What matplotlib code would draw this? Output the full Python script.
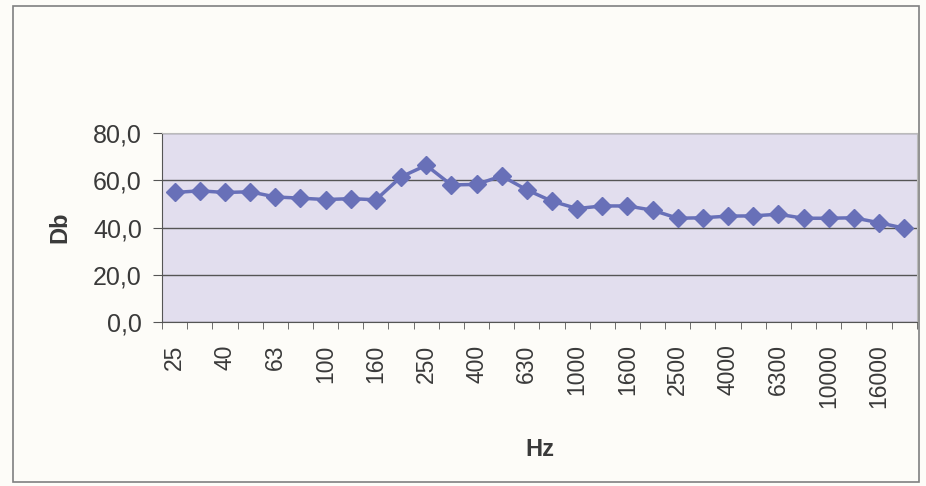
import numpy as np
import matplotlib.pyplot as plt
from matplotlib.patches import Rectangle

plt.rcParams['font.family'] = ['Liberation Sans', 'DejaVu Sans']

# ============= data =============
freqs = ['25', '31.5', '40', '50', '63', '80', '100', '125', '160', '200',
         '250', '315', '400', '500', '630', '800', '1000', '1250', '1600', '2000',
         '2500', '3150', '4000', '5000', '6300', '8000', '10000', '12500', '16000', '20000']
db = [54.9, 55.6, 54.9, 55.2, 53.0, 52.5, 51.9, 52.3, 51.8, 61.5,
      66.4, 58.1, 58.3, 61.9, 56.0, 51.2, 48.1, 49.2, 49.2, 47.4,
      44.0, 44.2, 44.9, 45.0, 45.7, 44.0, 44.0, 44.2, 42.1, 39.8]
yticks = [0, 20, 40, 60, 80]

# ============= plotting =============
fig = plt.figure(figsize=(9.26, 4.86), dpi=100, facecolor='#fdfcf8')
fig.patches.append(Rectangle((0.014, 0.008), 0.978, 0.98, transform=fig.transFigure,
                             fill=False, edgecolor='#808080', linewidth=1.2))

ax = fig.add_axes([0.175, 0.337, 0.815, 0.389])
ax.set_facecolor('#e2deee')
x = np.arange(len(freqs))
ax.plot(x, db, color='#6870b8', linewidth=2.5, marker='D', markersize=9,
        markerfacecolor='#6870b8', markeredgecolor='#6870b8', zorder=3)

ax.set_xlim(-0.5, len(freqs) - 0.5)
ax.set_ylim(0, 80)
ax.set_yticks(yticks)
ax.set_yticklabels([f'{v:.1f}'.replace('.', ',') for v in yticks], fontsize=18, color='#3a3a3a')
ax.yaxis.grid(True, color='#555555', linewidth=1)
ax.set_axisbelow(True)

# labels on every other band, tick marks on band boundaries
ax.set_xticks(x[::2])
ax.set_xticklabels(freqs[::2], rotation=90, fontsize=16.5, color='#3a3a3a')
ax.set_xticks(np.arange(len(freqs) + 1) - 0.5, minor=True)
ax.tick_params(axis='x', which='major', length=0, pad=16)
ax.tick_params(axis='x', which='minor', length=5, color='#555555')
ax.tick_params(axis='y', length=6.5, color='#555555', pad=8)

for s in ['left', 'bottom']:
    ax.spines[s].set_color('#555555')
for s in ['top', 'right']:
    ax.spines[s].set_color('#bbbbbb')

ax.set_ylabel('Db', fontsize=17, fontweight='bold', color='#3a3a3a')
ax.set_xlabel('Hz', fontsize=17, fontweight='bold', color='#3a3a3a')
ax.yaxis.label.set_va('center')
ax.xaxis.label.set_va('center')
ax.yaxis.set_label_coords(-0.136, 0.5)
ax.xaxis.set_label_coords(0.5, -0.672)

plt.savefig('out.png', dpi=100, facecolor=fig.get_facecolor())
